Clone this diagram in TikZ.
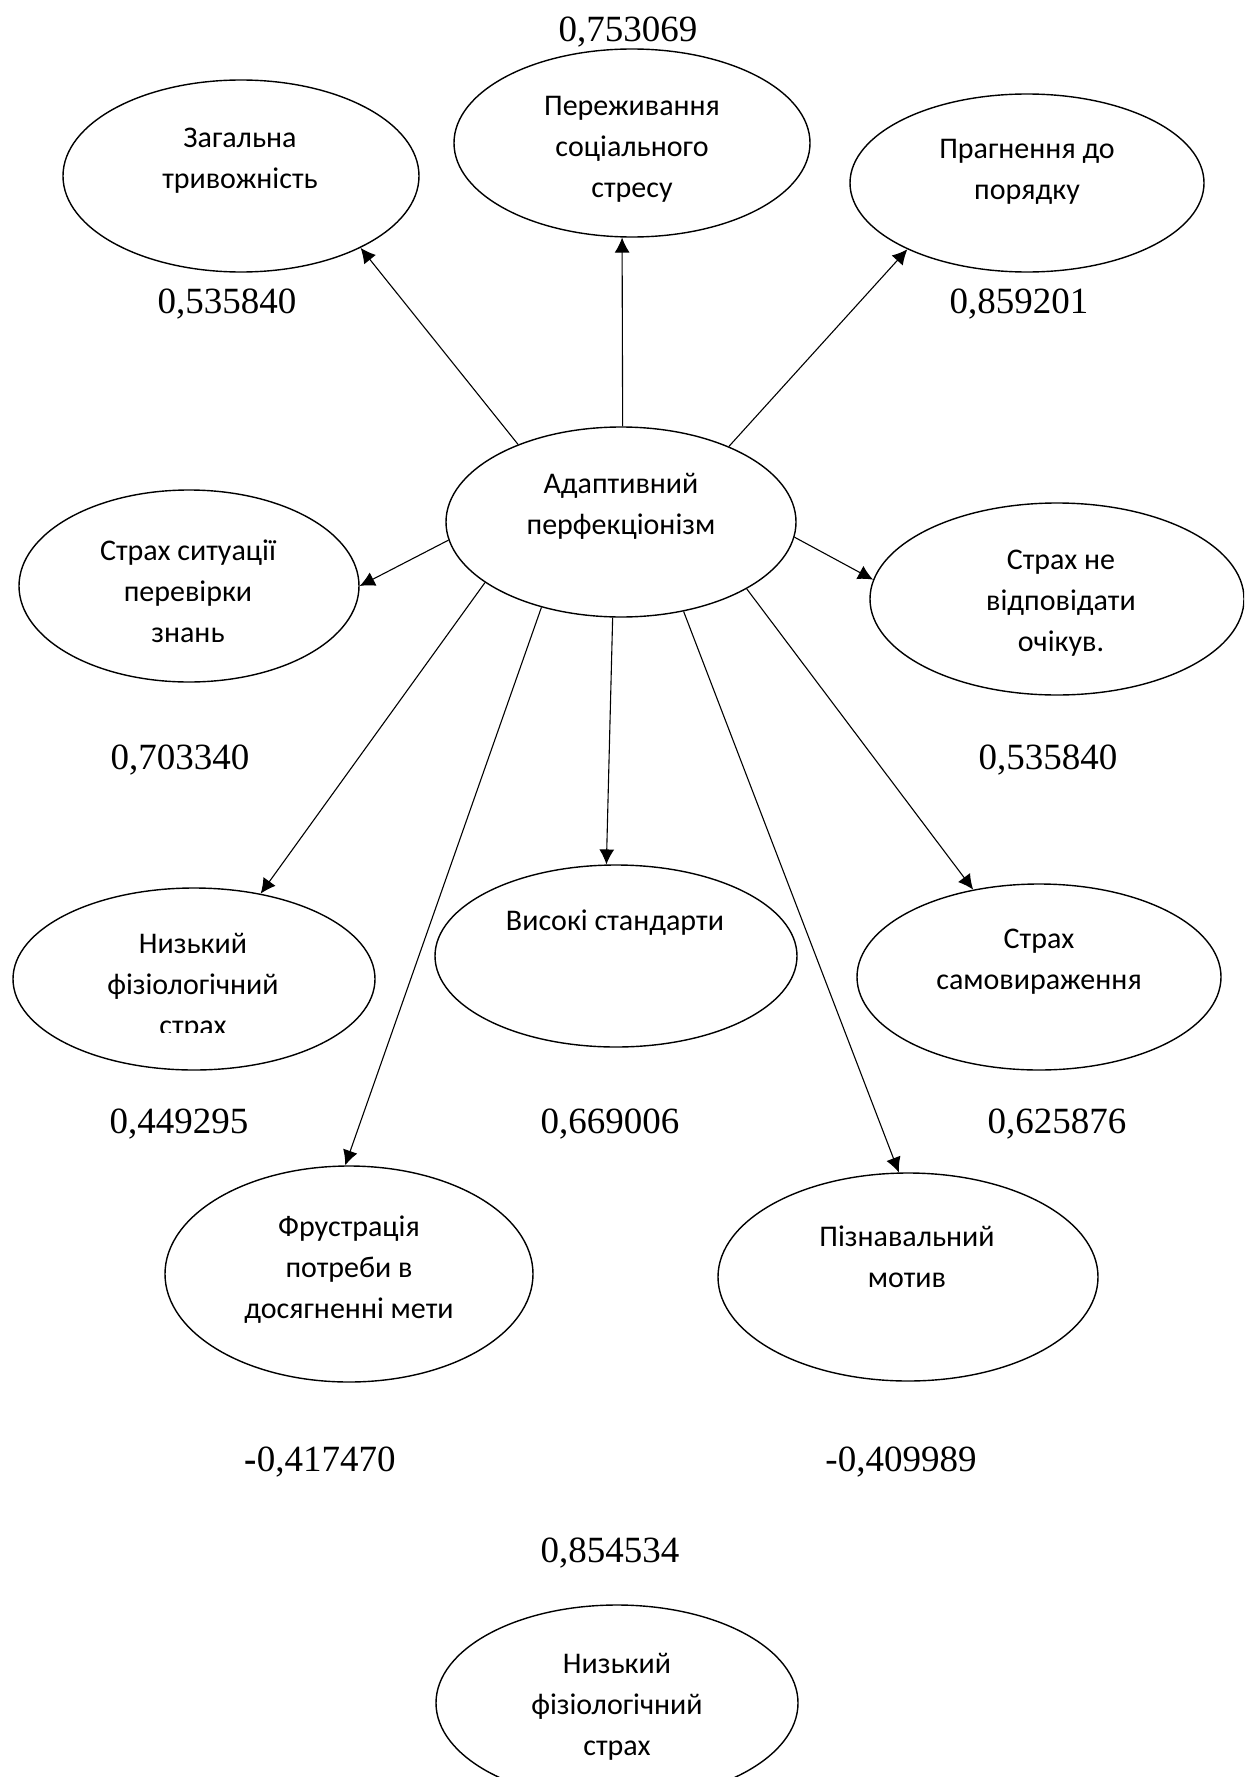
\documentclass[tikz,border=0pt]{standalone}
\usepackage{fontspec}
\setmainfont{Liberation Serif}
\newfontfamily\calibri{Carlito}
\usetikzlibrary{shapes}
\usetikzlibrary{arrows.meta}
\tikzset{
	node_oval/.style = {
		ellipse,
		draw=black,
		line width=0.7pt,
		inner sep=0pt
	},
	node_txt/.style = {
		align=center,
		inner sep=0pt,
		font=\calibri\fontsize{15}{20.5}\selectfont
	},
	node_num/.style = {
		inner sep=0pt,
		font=\fontsize{18.5}{22}\selectfont
	},
	arr/.style = {
		->,
		>={Latex[length=7.5pt,width=7.5pt]},
		line width=0.55pt
	},
}

\begin{document}
\begin{tikzpicture}[x=0.5pt,y=-0.5pt]
\clip (0,0) rectangle (1244,1777);
% ovals
\node [node_oval, minimum width=178pt, minimum height=96pt] (zah) at (241,176) {};
\node [node_oval, minimum width=178pt, minimum height=94pt] (per) at (632,143) {};
\node [node_oval, minimum width=177pt, minimum height=89pt] (prag) at (1027,183) {};
\node [node_oval, minimum width=175pt, minimum height=95pt] (adapt) at (621,522) {};
\node [node_oval, minimum width=170pt, minimum height=96pt] (sit) at (189,586) {};
\node [node_oval, minimum width=187pt, minimum height=96pt] (vidp) at (1057,599) {};
\node [node_oval, minimum width=181pt, minimum height=91pt] (nyz) at (194,979) {};
\node [node_oval, minimum width=181pt, minimum height=91pt] (vys) at (616,956) {};
\node [node_oval, minimum width=182pt, minimum height=93pt] (samov) at (1039,977) {};
\node [node_oval, minimum width=184pt, minimum height=108pt] (frus) at (349,1274) {};
\node [node_oval, minimum width=190pt, minimum height=104pt] (piz) at (908,1277) {};
\node [node_oval, minimum width=181pt, minimum height=98pt] (nyz2) at (617,1703) {};

% texts in ovals
\node [node_txt] (t_zah) at (240,161) {Загальна\\тривожність};
\node [node_txt] (t_per) at (632,149) {Переживання\\соціального\\стресу};
\node [node_txt] (t_prag) at (1027,172) {Прагнення до\\порядку};
\node [node_txt] (t_adapt) at (621,506) {Адаптивний\\перфекціонізм};
\node [node_txt] (t_sit) at (188,591) {Страх ситуації\\перевірки\\знань};
\node [node_txt] (t_vidp) at (1061,603) {Страх не\\відповідати\\очікув.};
\begin{scope}
\clip (0,0) rectangle (1244,1032);
\node [node_txt] (t_nyz) at (193,987) {Низький\\фізіологічний\\страх};
\end{scope}
\node [node_txt] (t_vys) at (615,923) {Високі стандарти};
\node [node_txt] (t_samov) at (1039,962) {Страх\\самовираження};
\node [node_txt] (t_frus) at (349,1270) {Фрустрація\\потреби в\\досягненні мети};
\node [node_txt] (t_piz) at (907,1257) {Пізнавальний\\мотив};
\node [node_txt] (t_nyz2) at (617,1707) {Низький\\фізіологічний\\страх};

% values
\node [node_num] (n_per) at (628,32) {0,753069};
\node [node_num] (n_zah) at (227,304) {0,535840};
\node [node_num] (n_prag) at (1019,304) {0,859201};
\node [node_num] (n_sit) at (180,760) {0,703340};
\node [node_num] (n_vidp) at (1048,760) {0,535840};
\node [node_num] (n_nyz) at (179,1124) {0,449295};
\node [node_num] (n_vys) at (610,1124) {0,669006};
\node [node_num] (n_samov) at (1057,1124) {0,625876};
\node [node_num] (n_frus) at (320,1462) {\textbf{-}0,417470};
\node [node_num] (n_piz) at (901,1462) {-0,409989};
\node [node_num] (n_nyz2) at (610,1553) {0,854534};

% arrows
\draw [arr] (adapt.143) -- (zah.329);
\draw [arr] (adapt.89) -- (per.264);
\draw [arr] (adapt.35) -- (prag.209);
\draw [arr] (adapt.186) -- (sit.0);
\draw [arr] (adapt.355) -- (vidp.174);
\draw [arr] (adapt.204) -- (nyz.52);
\draw [arr] (adapt.227) -- (frus.92);
\draw [arr] (adapt.265) -- (vys.96);
\draw [arr] (adapt.305) -- (piz.95);
\draw [arr] (adapt.332) -- (samov.127);
\end{tikzpicture}
\end{document}
